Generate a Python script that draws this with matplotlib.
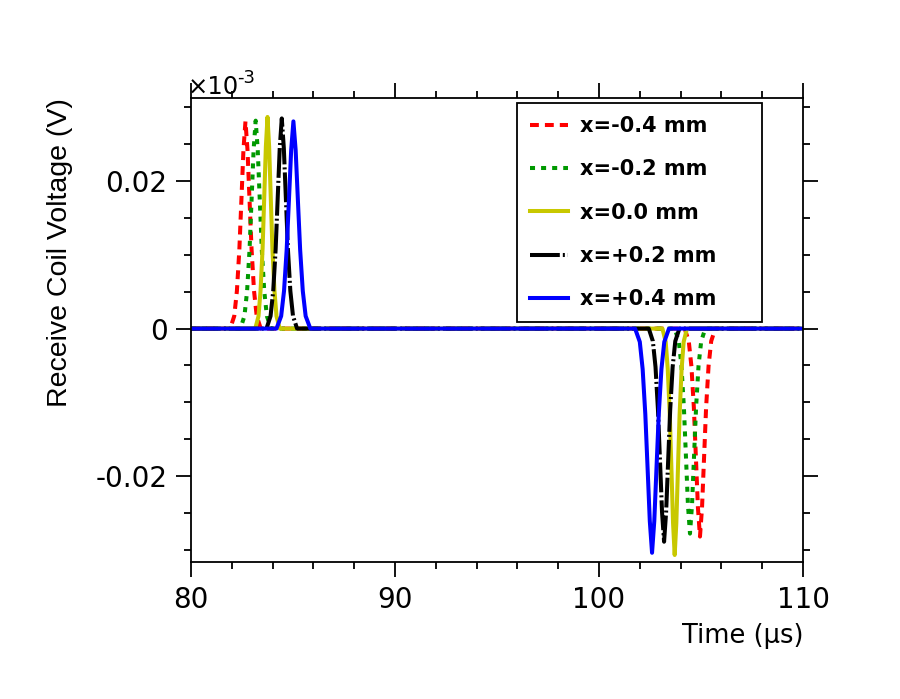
import matplotlib
matplotlib.use("Agg")
import matplotlib.pyplot as plt
from matplotlib.ticker import MultipleLocator

plt.rcParams['axes.unicode_minus'] = False

# ---- data ----
labels = ["x=-0.4 mm", "x=-0.2 mm", "x=0.0 mm", "x=+0.2 mm", "x=+0.4 mm"]
colors = ["#ff0000", "#009900", "#c8c800", "#000000", "#0000ff"]

t_red = [80.0, 81.92, 82.12, 82.25, 82.37, 82.47, 82.57, 82.67, 82.77, 82.87, 82.97, 83.09, 83.22, 83.42,
         104.20, 104.40, 104.53, 104.65, 104.75, 104.85, 104.95, 105.05, 105.15, 105.25, 105.37, 105.50, 105.70, 110.0]
v_red = [0, 0, 0.0017, 0.0051, 0.0107, 0.0174, 0.0242, 0.0281, 0.0242, 0.0174, 0.0107, 0.0051, 0.0017, 0,
         0, -0.0017, -0.0051, -0.0107, -0.0175, -0.0243, -0.0282, -0.0243, -0.0175, -0.0107, -0.0051, -0.0017, 0, 0]

t_green = [80.0, 82.42, 82.62, 82.75, 82.87, 82.97, 83.07, 83.17, 83.27, 83.37, 83.47, 83.59, 83.72, 83.92,
           103.71, 103.91, 104.04, 104.16, 104.26, 104.36, 104.46, 104.56, 104.66, 104.76, 104.88, 105.01, 105.21, 110.0]
v_green = [0, 0, 0.0017, 0.0051, 0.0107, 0.0175, 0.0243, 0.0282, 0.0243, 0.0175, 0.0107, 0.0051, 0.0017, 0,
           0, -0.0017, -0.0050, -0.0106, -0.0172, -0.0239, -0.0278, -0.0239, -0.0172, -0.0106, -0.0050, -0.0017, 0, 0]

t_yellow = [80.0, 83.15, 83.31, 83.41, 83.51, 83.59, 83.67, 83.75, 83.83, 83.91, 83.99, 84.09, 84.19, 84.35,
            103.11, 103.27, 103.37, 103.47, 103.55, 103.63, 103.71, 103.79, 103.87, 103.95, 104.05, 104.15, 104.31, 110.0]
v_yellow = [0, 0, 0.0017, 0.0052, 0.0109, 0.0178, 0.0247, 0.0287, 0.0247, 0.0178, 0.0109, 0.0052, 0.0017, 0,
            0, -0.0018, -0.0055, -0.0117, -0.0190, -0.0264, -0.0307, -0.0264, -0.0190, -0.0117, -0.0055, -0.0018, 0, 0]

t_black = [80.0, 83.70, 83.90, 84.03, 84.15, 84.25, 84.35, 84.45, 84.55, 84.65, 84.75, 84.87, 85.00, 85.20,
           102.44, 102.64, 102.77, 102.89, 102.99, 103.09, 103.19, 103.29, 103.39, 103.49, 103.61, 103.74, 103.94, 110.0]
v_black = [0, 0, 0.0017, 0.0051, 0.0108, 0.0177, 0.0245, 0.0285, 0.0245, 0.0177, 0.0108, 0.0051, 0.0017, 0,
           0, -0.0017, -0.0052, -0.0110, -0.0179, -0.0249, -0.0289, -0.0249, -0.0179, -0.0110, -0.0052, -0.0017, 0, 0]

t_blue = [80.0, 84.19, 84.42, 84.56, 84.69, 84.80, 84.91, 85.02, 85.13, 85.24, 85.35, 85.48, 85.62, 85.85,
          101.77, 102.00, 102.14, 102.27, 102.38, 102.49, 102.60, 102.71, 102.82, 102.93, 103.06, 103.20, 103.43, 110.0]
v_blue = [0, 0, 0.0017, 0.0051, 0.0107, 0.0174, 0.0242, 0.0281, 0.0242, 0.0174, 0.0107, 0.0051, 0.0017, 0,
          0, -0.0018, -0.0055, -0.0116, -0.0188, -0.0261, -0.0304, -0.0261, -0.0188, -0.0116, -0.0055, -0.0018, 0, 0]

xticks = [80, 90, 100, 110]
yticks = [-0.02, 0, 0.02]
ytick_labels = ["-0.02", "0", "0.02"]

# ---- figure ----
fig = plt.figure(figsize=(9, 6.99), dpi=100)
ax = fig.add_axes([191/900, (699-562)/699, 612/900, 464/699])

styles = [(0, (2.2, 1.5)), (0, (1.25, 1.5)), "-", (0, (7.4, 0.75, 0.5, 0.75)), "-"]
series = [(t_red, v_red), (t_green, v_green), (t_yellow, v_yellow), (t_black, v_black), (t_blue, v_blue)]
for (t, v), c, ls, lab in zip(series, colors, styles, labels):
    ax.plot(t, v, color=c, linestyle=ls, linewidth=2.9, label=lab)

ax.set_xlim(80, 110)
ax.set_ylim(-0.03165, 0.03127)
ax.set_xticks(xticks)
ax.set_yticks(yticks)
ax.set_yticklabels(ytick_labels)
ax.xaxis.set_minor_locator(MultipleLocator(2))
ax.yaxis.set_minor_locator(MultipleLocator(0.005))
ax.tick_params(which='both', direction='out', top=True, right=True, width=1.3,
               labelsize=20, pad=6)
ax.tick_params(which='major', length=11)
ax.tick_params(which='minor', length=5)
for s in ax.spines.values():
    s.set_linewidth(1.3)

ax.set_xlabel("Time (\u03bcs)", fontsize=18.5, loc='right', labelpad=7)
ax.set_ylabel("Receive Coil Voltage (V)", fontsize=20.5, loc='top', labelpad=16,
              family="Liberation Sans")

fig.text(188/900, (699-94)/699, "\u00d710", fontsize=17.5, va='baseline', ha='left')
fig.text(237/900, (699-83)/699, "-3", fontsize=13, va='baseline', ha='left')

leg = ax.legend(loc='upper left', bbox_to_anchor=(0.533, 0.522, 0.4, 0.467), mode='expand',
                prop={'weight': 'bold', 'size': 15}, frameon=True, fancybox=False,
                framealpha=1, edgecolor='black', borderpad=0.62, labelspacing=1.12,
                handlelength=1.83, handletextpad=0.55, borderaxespad=0)
leg.get_frame().set_linewidth(1.3)

fig.savefig("out.png", dpi=100)
